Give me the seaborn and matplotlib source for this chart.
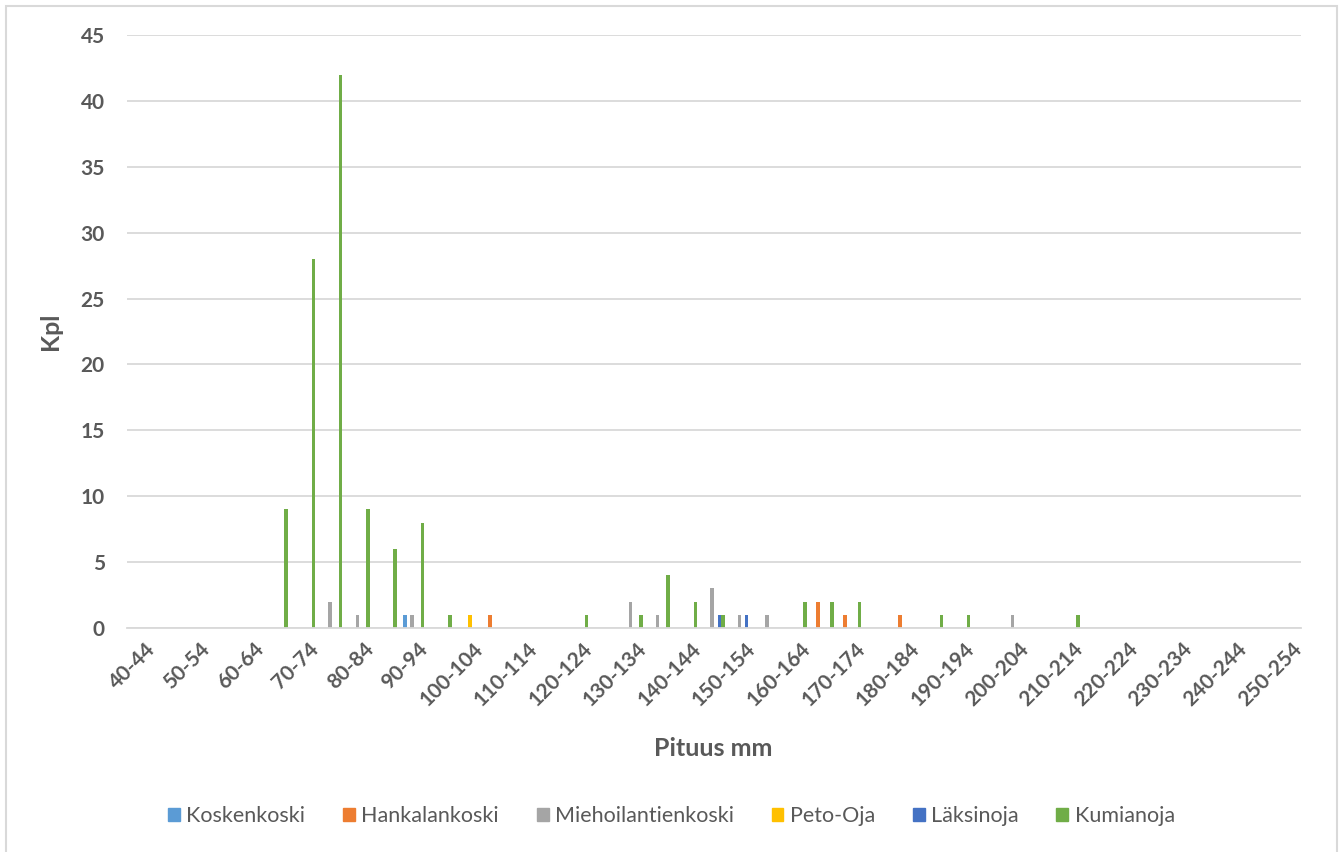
import matplotlib
matplotlib.use("Agg")
import matplotlib.pyplot as plt
from matplotlib.patches import Rectangle
from matplotlib.transforms import ScaledTranslation
import seaborn as sns
import pandas as pd

# Length classes, 5 mm each
categories = [f"{s}-{s + 4}" for s in range(40, 255, 5)]

# Fish counts per length class for each site
koskenkoski = [0, 0, 0, 0, 0, 0, 0, 0, 0, 0, 1, 0, 0, 0, 0, 0, 0, 0, 0, 0, 0, 0,
               0, 0, 0, 0, 0, 0, 0, 0, 0, 0, 0, 0, 0, 0, 0, 0, 0, 0, 0, 0, 0]
hankalankoski = [0, 0, 0, 0, 0, 0, 0, 0, 0, 0, 0, 0, 0, 1, 0, 0, 0, 0, 0, 0, 0, 0,
                 0, 0, 0, 2, 1, 0, 1, 0, 0, 0, 0, 0, 0, 0, 0, 0, 0, 0, 0, 0, 0]
miehoilantienkoski = [0, 0, 0, 0, 0, 0, 0, 2, 1, 0, 1, 0, 0, 0, 0, 0, 0, 0, 2, 1, 0, 3,
                      1, 1, 0, 0, 0, 0, 0, 0, 0, 0, 1, 0, 0, 0, 0, 0, 0, 0, 0, 0, 0]
peto_oja = [0, 0, 0, 0, 0, 0, 0, 0, 0, 0, 0, 0, 1, 0, 0, 0, 0, 0, 0, 0, 0, 0,
            0, 0, 0, 0, 0, 0, 0, 0, 0, 0, 0, 0, 0, 0, 0, 0, 0, 0, 0, 0, 0]
laksinoja = [0, 0, 0, 0, 0, 0, 0, 0, 0, 0, 0, 0, 0, 0, 0, 0, 0, 0, 0, 0, 0, 1,
             1, 0, 0, 0, 0, 0, 0, 0, 0, 0, 0, 0, 0, 0, 0, 0, 0, 0, 0, 0, 0]
kumianoja = [0, 0, 0, 0, 0, 9, 28, 42, 9, 6, 8, 1, 0, 0, 0, 0, 1, 0, 1, 4, 2, 1,
             0, 0, 2, 2, 2, 0, 0, 1, 1, 0, 0, 0, 1, 0, 0, 0, 0, 0, 0, 0, 0]

series_names = ["Koskenkoski", "Hankalankoski", "Miehoilantienkoski",
                "Peto-Oja", "Läksinoja", "Kumianoja"]
series_values = [koskenkoski, hankalankoski, miehoilantienkoski,
                 peto_oja, laksinoja, kumianoja]
palette = ["#5B9BD5", "#ED7D31", "#A5A5A5", "#FFC000", "#4472C4", "#70AD47"]

rows = []
for name, vals in zip(series_names, series_values):
    for cat, v in zip(categories, vals):
        rows.append({"Pituus": cat, "Paikka": name, "Kpl": v})
df = pd.DataFrame(rows)

sns.set_theme(style="white")
plt.rcParams["font.family"] = ["Lato", "DejaVu Sans"]

W, H = 1343, 852
fig = plt.figure(figsize=(W / 100, H / 100), dpi=100)
ax = fig.add_axes([127 / W, 1 - 628 / H, (1301 - 127) / W, (628 - 35) / H])

sns.barplot(data=df, x="Pituus", y="Kpl", hue="Paikka", order=categories,
            hue_order=series_names, palette=palette, width=0.78,
            linewidth=0, saturation=1, errorbar=None, ax=ax)

text_color = "#595959"
grid_color = "#D9D9D9"

ax.set_xlim(-0.5, len(categories) - 0.5)
ax.set_ylim(0, 45)
ax.set_yticks(range(0, 46, 5))
ax.yaxis.grid(True, color=grid_color, linewidth=1.3)
ax.set_axisbelow(True)
for side in ["top", "right", "left"]:
    ax.spines[side].set_visible(False)
ax.spines["bottom"].set_color(grid_color)
ax.spines["bottom"].set_linewidth(1.3)
ax.tick_params(axis="both", length=0, colors=text_color)
ax.tick_params(axis="y", pad=16)
ax.tick_params(axis="x", pad=8)

shown = list(range(0, len(categories), 2))
ax.set_xticks(shown)
ax.set_xticklabels([categories[i] for i in shown], rotation=45, ha="right",
                   va="top", rotation_mode="anchor", fontsize=15,
                   fontweight="bold", color=text_color)
shift = ScaledTranslation(3 / 72, 0, fig.dpi_scale_trans)
for lbl in ax.get_xticklabels():
    lbl.set_transform(lbl.get_transform() + shift)
for lbl in ax.get_yticklabels():
    lbl.set_fontsize(15)
    lbl.set_fontweight("bold")
    lbl.set_color(text_color)

ax.set_xlabel("Pituus mm", fontsize=18, fontweight="bold", color=text_color)
ax.set_ylabel("Kpl", fontsize=18, fontweight="bold", color=text_color)
ax.xaxis.set_label_coords(0.499, -0.183)
ax.yaxis.set_label_coords(-0.055, 0.5)

ax.get_legend().remove()
handles = [Rectangle((0, 0), 1, 1, color=c) for c in palette]
fig.legend(handles, series_names, loc="center", ncol=6,
           bbox_to_anchor=(0.5, 1 - 816 / H), frameon=False, fontsize=15.5,
           handlelength=0.55, handleheight=0.55, handletextpad=0.3,
           columnspacing=1.75, labelcolor=text_color)

# Outer chart frame
fig.patches.append(Rectangle((6 / W, -0.05), (1337 - 6) / W, 1.05 - 6 / H,
                             transform=fig.transFigure, fill=False,
                             edgecolor=grid_color, linewidth=1.5))

fig.savefig("out.png", dpi=100)
